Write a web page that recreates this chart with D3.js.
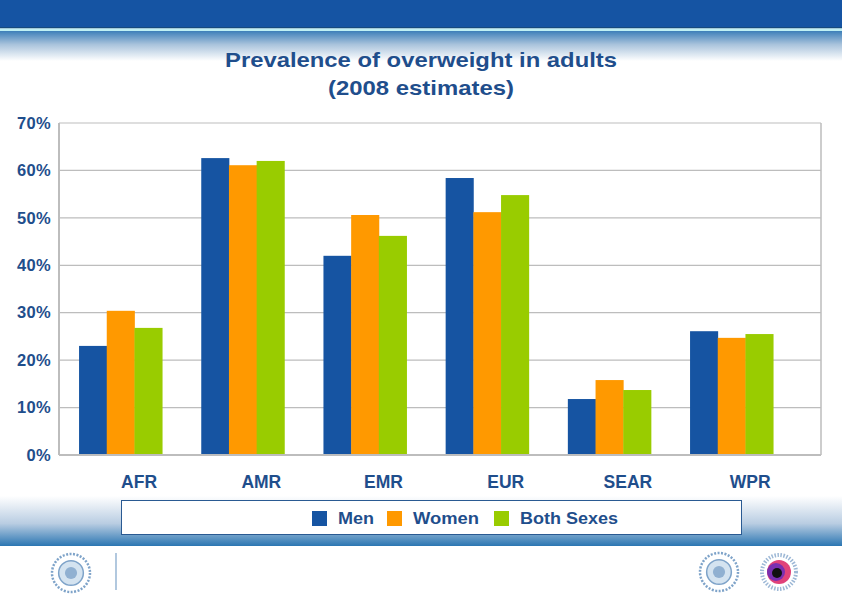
<!DOCTYPE html>
<html><head><meta charset="utf-8">
<script src="https://cdn.jsdelivr.net/npm/d3@7"></script>
<style>body{margin:0;background:#fff}svg{display:block}</style>
</head><body>
<script>
const categories = ["AFR","AMR","EMR","EUR","SEAR","WPR"];
const seriesNames = ["Men","Women","Both Sexes"];
const men   = [23.0, 62.6, 42.0, 58.4, 11.8, 26.1];
const women = [30.4, 61.1, 50.6, 51.2, 15.8, 24.7];
const both  = [26.8, 62.0, 46.2, 54.8, 13.7, 25.5];
const yTicks = [0,10,20,30,40,50,60,70];
const colors = ["#1654a2","#ff9900","#99cc00"];
const series = [men, women, both];

const W = 842, H = 595;
const FONT = "Liberation Sans, Arial, sans-serif";
const svg = d3.select("body").append("svg").attr("width", W).attr("height", H);
const defs = svg.append("defs");
const gTop = defs.append("linearGradient").attr("id","gTop").attr("x1",0).attr("x2",0).attr("y1",0).attr("y2",1);
gTop.append("stop").attr("offset","0%").attr("stop-color","#3d7fb9");
gTop.append("stop").attr("offset","45%").attr("stop-color","#a9c3dc");
gTop.append("stop").attr("offset","100%").attr("stop-color","#ffffff");
const gBot = defs.append("linearGradient").attr("id","gBot").attr("x1",0).attr("x2",0).attr("y1",0).attr("y2",1);
gBot.append("stop").attr("offset","0%").attr("stop-color","#ffffff");
gBot.append("stop").attr("offset","55%").attr("stop-color","#b9cde2");
gBot.append("stop").attr("offset","100%").attr("stop-color","#2b76b2");

// header
svg.append("rect").attr("x",0).attr("y",31).attr("width",W).attr("height",30).attr("fill","url(#gTop)");
svg.append("rect").attr("x",0).attr("y",0).attr("width",W).attr("height",27).attr("fill","#1554a3");
svg.append("rect").attr("x",0).attr("y",27).attr("width",W).attr("height",1.5).attr("fill","#154a7e");
svg.append("rect").attr("x",0).attr("y",28.5).attr("width",W).attr("height",2.5).attr("fill","#bff0f4");
// footer band
svg.append("rect").attr("x",0).attr("y",496).attr("width",W).attr("height",50).attr("fill","url(#gBot)");

const titleColor = "#1f4e8c";
svg.append("text").attr("x",421).attr("y",67).attr("text-anchor","middle")
  .attr("font-family",FONT).attr("font-size",21).attr("font-weight","bold").attr("fill",titleColor)
  .attr("textLength",392).attr("lengthAdjust","spacingAndGlyphs")
  .text("Prevalence of overweight in adults");
svg.append("text").attr("x",421).attr("y",95).attr("text-anchor","middle")
  .attr("font-family",FONT).attr("font-size",21).attr("font-weight","bold").attr("fill",titleColor)
  .attr("textLength",186).attr("lengthAdjust","spacingAndGlyphs")
  .text("(2008 estimates)");

const plotL = 59, plotR = 821, plotT = 123, plotB = 455;
const y = d3.scaleLinear().domain([0,70]).range([plotB, plotT]);
const x = d3.scaleBand().domain(categories).range([59.5, 792.7]).paddingInner(0.32).paddingOuter(0.16);
const xs = d3.scaleBand().domain(seriesNames).range([0, x.bandwidth()]);

// gridlines
svg.append("g").selectAll("line").data(yTicks.filter(d=>d>0)).join("line")
  .attr("x1",plotL).attr("x2",plotR).attr("y1",d=>y(d)).attr("y2",d=>y(d))
  .attr("stroke","#bdbdbd").attr("stroke-width",1.2);
svg.append("line").attr("x1",plotR).attr("x2",plotR).attr("y1",plotT).attr("y2",plotB).attr("stroke","#bdbdbd").attr("stroke-width",1.5);
svg.append("line").attr("x1",plotL).attr("x2",plotL).attr("y1",plotT).attr("y2",plotB).attr("stroke","#bdbdbd").attr("stroke-width",2);

// bars
const gBars = svg.append("g");
categories.forEach((c,i)=>{
  series.forEach((s,j)=>{
    gBars.append("rect")
      .attr("x", x(c)+xs(seriesNames[j]))
      .attr("width", xs.bandwidth()+0.4)
      .attr("y", y(s[i]))
      .attr("height", y(0)-y(s[i]))
      .attr("fill", colors[j]);
  });
});
svg.append("line").attr("x1",plotL).attr("x2",plotR).attr("y1",plotB).attr("y2",plotB).attr("stroke","#bdbdbd").attr("stroke-width",2);

// y axis
const yAxis = d3.axisLeft(y).tickValues(yTicks).tickFormat(d=>d+"%").tickSize(0).tickPadding(8);
const ga = svg.append("g").attr("transform",`translate(${plotL},0)`).call(yAxis);
ga.select(".domain").remove();
ga.selectAll("text").attr("font-family",FONT).attr("font-size",16.5)
  .attr("font-weight","bold").attr("fill",titleColor).attr("letter-spacing","0.3");

// x axis labels (offset right as in original)
const xAxis = d3.axisBottom(x).tickSize(0).tickPadding(0);
const gx = svg.append("g").attr("transform",`translate(18.5,${plotB+33})`).call(xAxis);
gx.select(".domain").remove();
gx.selectAll("text").attr("font-family",FONT).attr("font-size",17.5)
  .attr("font-weight","bold").attr("fill",titleColor).attr("dy","0");

// legend
svg.append("rect").attr("x",121.5).attr("y",500.5).attr("width",620).attr("height",34)
  .attr("fill","#fff").attr("stroke","#2a5a92").attr("stroke-width",1);
const legX = [312, 387, 494];
const legW = [36, 66, 98];
const lg = svg.append("g");
seriesNames.forEach((n,j)=>{
  lg.append("rect").attr("x",legX[j]).attr("y",511).attr("width",15).attr("height",15).attr("fill",colors[j]);
  lg.append("text").attr("x",legX[j]+26).attr("y",524).attr("font-family",FONT)
    .attr("font-size",17).attr("font-weight","bold").attr("fill",titleColor)
    .attr("textLength",legW[j]).attr("lengthAdjust","spacingAndGlyphs").text(n);
});

// footer emblems (simplified)
const fg = svg.append("g");
function emblem(cx, cy, r, col){
  const g = fg.append("g").attr("transform",`translate(${cx},${cy})`);
  g.append("circle").attr("r",r).attr("fill","none").attr("stroke",col).attr("stroke-width",2.5).attr("stroke-dasharray","2,1.5");
  g.append("circle").attr("r",r*0.65).attr("fill","#d4e3f0").attr("stroke",col).attr("stroke-width",1.5);
  g.append("circle").attr("r",r*0.32).attr("fill",col).attr("opacity",0.8);
  return g;
}
emblem(71, 573, 19, "#7ea3c9");
fg.append("line").attr("x1",116).attr("x2",116).attr("y1",553).attr("y2",590).attr("stroke","#7ea3c9").attr("stroke-width",1.2);
emblem(719, 572, 19, "#7ea3c9");
const g2 = fg.append("g").attr("transform","translate(779,572)");
g2.append("circle").attr("r",17).attr("fill","none").attr("stroke","#9db8d6").attr("stroke-width",4).attr("stroke-dasharray","1.5,1.5");
g2.append("circle").attr("r",12).attr("fill","#e0427a");
g2.append("circle").attr("cx",-3).attr("r",9).attr("fill","#7a2fb0");
g2.append("circle").attr("cx",-2).attr("cy",1).attr("r",5).attr("fill","#111");
</script>
</body></html>
